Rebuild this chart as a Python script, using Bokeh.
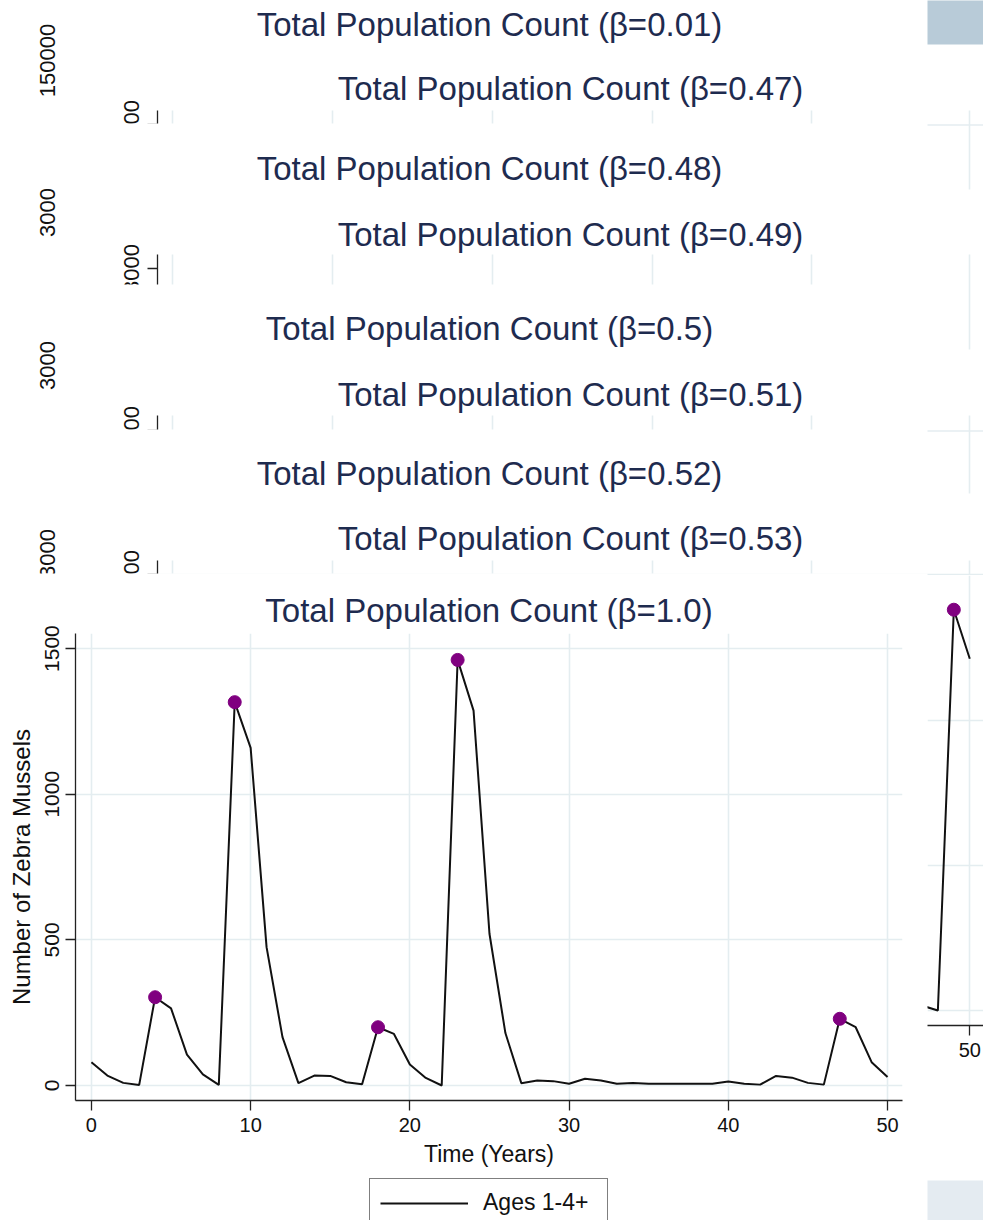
import numpy as np
from bokeh.plotting import figure
from bokeh.models import Range1d, FixedTicker, Legend, LegendItem
from bokeh.layouts import column, row
from bokeh.embed import file_html
from bokeh.resources import INLINE
from bokeh.core.properties import value

# ---------------- data ----------------
years = list(range(0, 51))
ages_1_4 = [80, 34, 9, 2, 303, 265, 106, 38, 2, 1316, 1159, 475, 166, 8, 34, 33, 11, 4,
            200, 177, 72, 26, 0, 1461, 1287, 521, 180, 8, 17, 15, 6, 23, 17, 6, 9, 6, 6, 6,
            6, 6, 14, 6, 3, 33, 27, 9, 3, 229, 200, 80, 29]
peak_years = [4, 9, 18, 23, 47]
peak_values = [ages_1_4[t] for t in peak_years]

# tail of the hidden beta=0.53 panel (visible at right edge)
frag_years = [47, 48, 49, 50]
frag_values = [17, 0, 1382, 1213]
frag_peak_years = [49]
frag_peak_values = [1382]

x_ticks = [0, 10, 20, 30, 40, 50]
y_ticks = [0, 500, 1000, 1500]

panel_betas = ["0.01", "0.47", "0.48", "0.49", "0.5", "0.51", "0.52", "0.53"]
panel_titles = ["Total Population Count (\u03b2=%s)" % b for b in panel_betas]
main_title = "Total Population Count (\u03b2=1.0)"
left_frag_labels = ["150000", "3000", "3000", "3000"]
right_frag_labels = ["1500", "3000", "1500", "1500"]
legend_label = "Ages 1-4+"
x_label = "Time (Years)"
y_label = "Number of Zebra Mussels"

# ---------------- styles / layout ----------------
NAVY = "#1e2b4f"
GRID = "#e4edf0"
AX = "#222222"
FONT = "Liberation Sans"

# stacked panel layout (page pixel coordinates)
panel_cx = [489, 570, 489, 570, 489, 570, 489, 570]
panel_cy = [23.5, 87.5, 167.5, 233.5, 327.5, 393.5, 472.5, 537.5]
cover_top = [None, 60, 123, 189, 284, 349, 429, 493]
left_lab_y = [60, 212, 365, 553]
right_lab_y = [124, 268, 430, 574]
right_axis_top = [110, 254, 415, 560]
right_hgrid = [124.5, None, 430.5, 574]
right_vgrid_x = [172, 332, 492, 652, 811, 969]

# ---------------- top stack (overlapping panels) ----------------
T = figure(width=983, height=575, x_range=Range1d(0, 983), y_range=Range1d(575, 0),
           x_axis_type=None, y_axis_type=None, output_backend="svg", toolbar_location=None,
           min_border=0, outline_line_color=None)
T.quad(left=[927], right=[990], top=[-5], bottom=[44], fill_color="#b8cbd8", line_color=None)

li = 0
ri = 0
for i, title in enumerate(panel_titles):
    right_col = (i % 2 == 1)
    if cover_top[i] is not None:
        if right_col:
            T.quad(left=[60], right=[990], top=[cover_top[i]], bottom=[600],
                   fill_color="white", line_color=None)
        else:
            T.quad(left=[-5], right=[927], top=[cover_top[i]], bottom=[600],
                   fill_color="white", line_color=None)
    T.text(x=[panel_cx[i]], y=[panel_cy[i]], text=[title], text_font=value(FONT),
           text_font_size="33px", text_align="center", text_baseline="middle",
           text_color=NAVY)
    if right_col:
        top = right_axis_top[ri]
        T.segment(x0=right_vgrid_x, y0=[top] * 6, x1=right_vgrid_x, y1=[600] * 6,
                  line_color=GRID, line_width=1.6)
        if right_hgrid[ri] is not None:
            T.segment(x0=[157], y0=[right_hgrid[ri]], x1=[990], y1=[right_hgrid[ri]],
                      line_color=GRID, line_width=1.6)
        T.segment(x0=[157], y0=[top], x1=[157], y1=[600], line_color=AX, line_width=1.3)
        T.segment(x0=[147], y0=[right_lab_y[ri]], x1=[157], y1=[right_lab_y[ri]],
                  line_color=AX, line_width=1.3)
        T.text(x=[131], y=[right_lab_y[ri]], text=[right_frag_labels[ri]], angle=np.pi / 2,
               text_font=value(FONT), text_font_size="22px", text_align="center",
               text_baseline="middle", text_color="#111111")
        ri += 1
    else:
        T.text(x=[47], y=[left_lab_y[li]], text=[left_frag_labels[li]], angle=np.pi / 2,
               text_font=value(FONT), text_font_size="22px", text_align="center",
               text_baseline="middle", text_color="#111111")
        li += 1
T.quad(left=[-5], right=[927], top=[573], bottom=[600], fill_color="white", line_color=None)

# ---------------- main chart ----------------
M = figure(width=927, height=600, x_range=Range1d(-1.0, 50.94), y_range=Range1d(-51.5, 1551.7),
           output_backend="svg", toolbar_location=None,
           min_border_left=75, min_border_right=25, min_border_top=58, min_border_bottom=75)
M.outline_line_color = None
M.title.text = main_title
M.title.align = "center"
M.title.text_font = FONT
M.title.text_font_size = "33px"
M.title.text_font_style = "normal"
M.title.text_color = NAVY
M.title.standoff = 9

M.xaxis.ticker = FixedTicker(ticks=x_ticks)
M.yaxis.ticker = FixedTicker(ticks=y_ticks)
M.xgrid.ticker = FixedTicker(ticks=x_ticks)
M.ygrid.ticker = FixedTicker(ticks=y_ticks)
M.grid.grid_line_color = GRID
M.grid.grid_line_width = 1.6
M.xaxis.axis_label = x_label
M.yaxis.axis_label = y_label
for ax in (M.xaxis, M.yaxis):
    ax.axis_line_color = AX
    ax.axis_line_width = 1.3
    ax.major_tick_line_color = AX
    ax.major_tick_line_width = 1.3
    ax.major_tick_out = 10
    ax.major_tick_in = 0
    ax.minor_tick_line_color = None
    ax.axis_label_text_font = FONT
    ax.axis_label_text_font_style = "normal"
    ax.axis_label_text_color = "#111111"
    ax.major_label_text_font = FONT
    ax.major_label_text_color = "#111111"
M.xaxis.major_label_text_font_size = "20px"
M.yaxis.major_label_text_font_size = "21px"
M.xaxis.axis_label_text_font_size = "23px"
M.yaxis.axis_label_text_font_size = "24px"
M.yaxis.major_label_orientation = "vertical"
M.xaxis.major_label_standoff = 7
M.yaxis.major_label_standoff = 6
M.xaxis.axis_label_standoff = 6
M.yaxis.axis_label_standoff = 8

M.line(years, ages_1_4, line_color="#111111", line_width=2)
M.scatter(peak_years, peak_values, size=13, fill_color="#800080", line_color="#800080")

# ---------------- legend strip below the main chart ----------------
L = figure(width=927, height=45, x_range=Range1d(0, 1), y_range=Range1d(-10, -5),
           x_axis_type=None, y_axis_type=None, output_backend="svg", toolbar_location=None,
           min_border=0, outline_line_color=None)
legend_line = L.line(years, ages_1_4, line_color="#111111", line_width=2)
legend = Legend(items=[LegendItem(label=legend_label, renderers=[legend_line])],
                location=(294, -7))
legend.label_text_font = FONT
legend.label_text_font_size = "23px"
legend.label_text_color = "#111111"
legend.glyph_width = 88
legend.glyph_height = 20
legend.label_standoff = 15
legend.label_width = 114
legend.padding = 10
legend.margin = 0
legend.border_line_color = "black"
legend.border_line_width = 1.2
legend.background_fill_color = "white"
legend.background_fill_alpha = 1.0
L.add_layout(legend, "center")

# ---------------- right edge fragment (hidden panel beta=0.53) ----------------
R1 = figure(width=56, height=605, x_range=Range1d(47.35, 50.86), y_range=Range1d(-51.7, 1500),
            y_axis_location=None, output_backend="svg", toolbar_location=None,
            min_border_left=0, min_border_right=0, min_border_top=0, min_border_bottom=155)
R1.outline_line_color = None
R1.xaxis.ticker = FixedTicker(ticks=x_ticks)
R1.xgrid.ticker = FixedTicker(ticks=x_ticks)
R1.ygrid.ticker = FixedTicker(ticks=y_ticks)
R1.grid.grid_line_color = GRID
R1.grid.grid_line_width = 1.6
R1.xaxis.axis_line_color = AX
R1.xaxis.axis_line_width = 1.3
R1.xaxis.major_tick_line_color = AX
R1.xaxis.major_tick_line_width = 1.3
R1.xaxis.major_tick_out = 10
R1.xaxis.major_tick_in = 0
R1.xaxis.minor_tick_line_color = None
R1.xaxis.major_label_text_font = FONT
R1.xaxis.major_label_text_font_size = "20px"
R1.xaxis.major_label_text_color = "#111111"
R1.xaxis.major_label_standoff = 7
R1.line(frag_years, frag_values, line_color="#111111", line_width=2)
R1.scatter(frag_peak_years, frag_peak_values, size=13, fill_color="#800080", line_color="#800080")

R2 = figure(width=56, height=40, x_range=Range1d(0, 1), y_range=Range1d(0, 1),
            x_axis_type=None, y_axis_type=None, output_backend="svg", toolbar_location=None,
            min_border=0, outline_line_color=None)
R2.background_fill_color = "#e4ebf1"
R2.border_fill_color = "#e4ebf1"

layout = column(T, row(column(M, L, spacing=0), column(R1, R2, spacing=0), spacing=0), spacing=0)

open("out.html", "w").write(file_html(layout, INLINE))
